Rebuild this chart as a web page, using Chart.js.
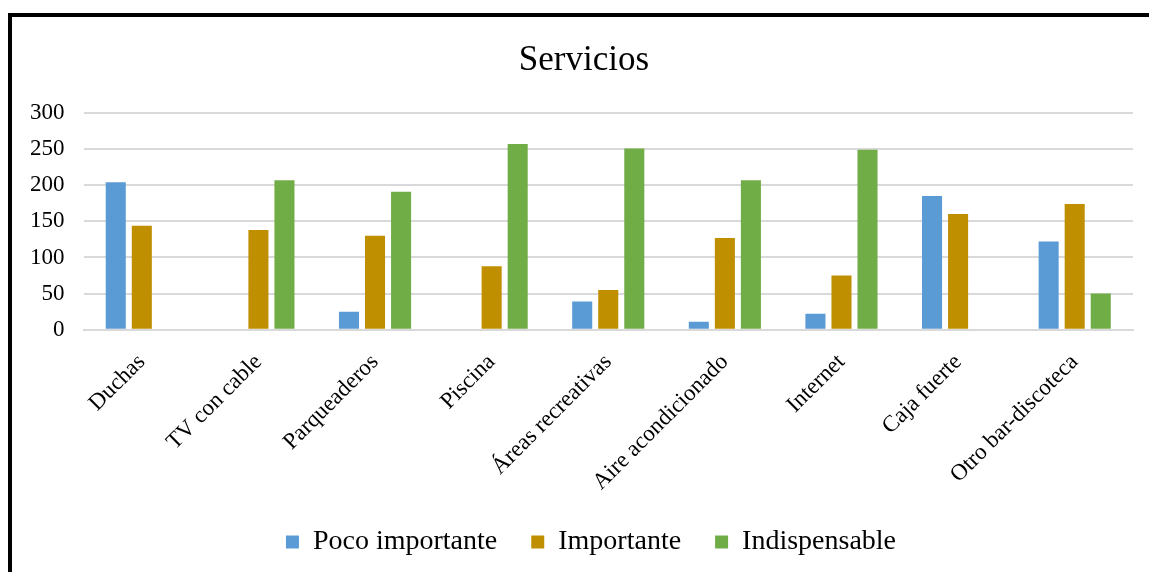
<!DOCTYPE html>
<html lang="es">
<head>
<meta charset="utf-8">
<title>Servicios</title>
<script src="https://cdn.jsdelivr.net/npm/chart.js@4.4.1/dist/chart.umd.min.js"></script>
<style>
  html, body { margin: 0; padding: 0; background: #fff; overflow: hidden; }
  #wrap { position: relative; width: 1149px; height: 572px; }
  #frame {
    position: absolute; left: 8px; top: 13px; width: 1200px; height: 600px;
    border-left: 4px solid #000; border-top: 4px solid #000; pointer-events: none;
  }
</style>
</head>
<body>
<div id="wrap">
  <canvas id="serviciosChart" width="1149" height="572"></canvas>
  <div id="frame"></div>
</div>
<script>
const servicios = ['Duchas', 'TV con cable', 'Parqueaderos', 'Piscina', 'Áreas recreativas',
  'Aire acondicionado', 'Internet', 'Caja fuerte', 'Otro bar-discoteca'];

const pocoImportante = [204, 0, 25, 0, 39, 11, 22, 185, 122];
const importante = [144, 138, 130, 88, 55, 127, 75, 160, 174];
const indispensable = [0, 207, 191, 257, 251, 207, 249, 0, 50];

const yTicks = [0, 50, 100, 150, 200, 250, 300];

const serif = '"Liberation Serif", "Times New Roman", serif';

// title and legend sit a little right of the canvas centre
const nudgeBoxes = {
  id: 'nudgeBoxes',
  afterLayout(chart) {
    if (chart.titleBlock) { chart.titleBlock.left += 12; chart.titleBlock.right += 12; }
    if (chart.legend) { chart.legend.left += 19; chart.legend.right += 19; }
  }
};

var ctx = document.getElementById('serviciosChart').getContext('2d');

var myChart = new Chart(ctx, {
  type: 'bar',
  data: {
    labels: servicios,
    datasets: [
      { label: 'Poco importante', data: pocoImportante, backgroundColor: '#5B9BD5' },
      { label: 'Importante', data: importante, backgroundColor: '#BF8F00' },
      { label: 'Indispensable', data: indispensable, backgroundColor: '#70AD47' }
    ]
  },
  options: {
    responsive: false,
    animation: false,
    datasets: {
      bar: { categoryPercentage: 0.67, barPercentage: 0.77 }
    },
    layout: { padding: { top: 18, left: 11, right: 16, bottom: 6 } },
    plugins: {
      title: {
        display: true,
        text: 'Servicios',
        color: '#000',
        font: { family: serif, size: 35, weight: 'normal' },
        padding: { top: 22, bottom: 31 }
      },
      legend: {
        display: true,
        position: 'bottom',
        labels: {
          color: '#000',
          font: { family: serif, size: 28 },
          boxWidth: 13,
          boxHeight: 13,
          padding: 34
        }
      },
      tooltip: { enabled: false }
    },
    scales: {
      x: {
        grid: { display: false, drawTicks: false },
        border: { display: true, color: '#D9D9D9', width: 2 },
        // the rotated labels need less room than the axis reserves
        afterFit: (axis) => { axis.height -= 21; },
        ticks: {
          color: '#000',
          font: { family: serif, size: 23 },
          minRotation: 45,
          maxRotation: 45,
          padding: 19
        }
      },
      y: {
        min: 0,
        max: 300,
        afterBuildTicks: (axis) => { axis.ticks = yTicks.map(v => ({ value: v })); },
        grid: { color: '#D9D9D9', lineWidth: 2, drawTicks: false },
        border: { display: false },
        ticks: {
          color: '#000',
          font: { family: serif, size: 23 },
          padding: 19
        }
      }
    }
  },
  plugins: [nudgeBoxes]
});
</script>
</body>
</html>
